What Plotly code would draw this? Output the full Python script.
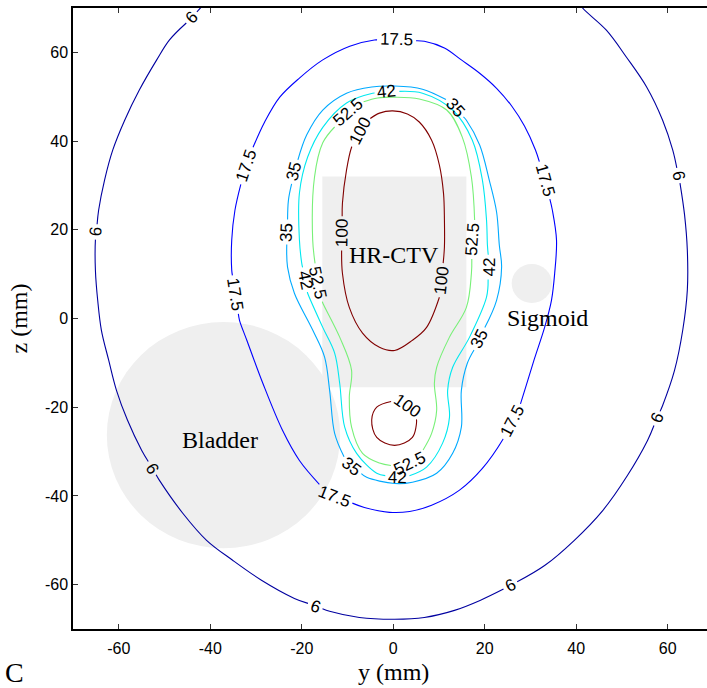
import numpy as np
import plotly.graph_objects as go

# ---------------------------------------------------------------- axes (mm)
Y_RANGE = [-70, 68.6]
Z_RANGE = [-70, 70]
TICKS = [-60, -40, -20, 0, 20, 40, 60]
TICK_TEXT = ["-60", "-40", "-20", "0", "20", "40", "60"]

# ---------------------------------------------------------------- isodose lines
levels = [6, 17.5, 35, 42, 52.5, 100]
level_colors = ["#0000a0", "#0000ff", "#00aaff", "#00e8f0", "#78f078", "#800000"]

iso6_y = [-40.4, -43.9, -48.9, -51.7, -55.5, -58.7, -61.3, -63.1, -64.4, -65.1, -65.1, -64.6, -63.8,
          -62.2, -60.5, -58.1, -55.0, -51.1, -46.0, -40.8, -35.1, -28.8, -21.6, -13.9, -7.4, 0.3,
          6.8, 13.4, 19.1, 25.9, 33.1, 39.6, 45.8, 51.2, 55.6, 58.9, 61.5, 63.3, 64.3, 64.3, 63.7,
          62.6, 61.1, 58.9, 55.4, 51.0, 46.6, 41.4, 40.1]
iso6_z = [72.0, 68.0, 62.8, 58.3, 51.5, 44.7, 38.0, 31.2, 24.4, 17.7, 10.9, 4.1, -2.6,
          -9.4, -16.2, -22.9, -29.7, -36.5, -43.9, -50.0, -54.5, -59.0, -63.1, -66.0, -67.4, -67.8,
          -67.4, -65.8, -63.5, -60.1, -55.7, -50.0, -43.3, -35.4, -27.5, -19.6, -11.7, -2.6, 6.4, 15.4, 23.3,
          31.2, 38.0, 44.7, 52.2, 58.9, 65.0, 70.0, 72.0]

iso17_y = [0.7, 6.8, 11.2, 14.9, 18.9, 22.6, 25.9, 28.7, 31.1, 33.3, 34.8, 35.7, 35.3, 34.6, 33.1,
           30.9, 29.1, 27.6, 23.9, 19.5, 14.5, 8.4, 3.6, -0.8, -6.3, -10.6, -14.5, -20.5, -24.2,
           -28.5, -32.0, -33.6, -34.6, -35.3, -35.3, -34.6, -33.1, -30.9, -28.1, -24.8, -20.5,
           -15.4, -9.5, -4.1]
iso17_z = [62.9, 62.5, 61.0, 58.3, 55.3, 51.9, 47.9, 43.4, 38.0, 31.2, 24.4, 17.7, 10.2, 4.1, -2.0,
           -9.0, -15.0, -20.0, -27.4, -33.8, -38.7, -42.1, -43.5, -43.7, -42.6, -41.0, -39.4, -32.0,
           -25.2, -14.6, -4.9, -0.4, 5.3, 10.9, 17.7, 24.4, 31.2, 38.0, 44.3, 49.9, 54.2, 58.3,
           61.4, 62.8]

iso35_y = [0.3, 6.4, 12.3, 16.0, 18.9, 21.0, 22.6, 23.2, 23.7, 22.6, 19.5, 16.2, 14.9, 14.9, 13.0,
           9.5, 4.2, 0.3, -5.8, -10.2, -12.8, -13.9, -15.0, -17.6, -21.6, -23.1, -23.3, -22.9, -21.6,
           -18.9, -15.4, -10.2, -4.7]
iso35_z = [52.4, 51.7, 49.0, 44.7, 39.1, 31.2, 24.0, 16.5, 11.6, 4.1, -3.3, -10.1, -16.2, -24.5,
           -30.4, -34.9, -36.9, -37.2, -35.8, -32.6, -25.9, -16.2, -8.7, -2.6, 5.7, 11.6, 17.7, 26.7,
           33.5, 41.4, 47.0, 50.8, 52.2]

iso42_y = [0.3, 6.4, 13.0, 17.3, 19.5, 20.4, 20.6, 21.0, 20.4, 16.7, 13.0, 11.9, 12.3, 10.8, 7.3,
           2.9, 0.3, -3.6, -8.0, -10.6, -11.7, -12.8, -15.4, -18.7, -20.0, -20.5, -20.5, -18.7,
           -15.4, -10.2, -4.5]
iso42_z = [51.3, 50.8, 47.0, 40.2, 31.2, 22.2, 16.5, 11.6, 4.8, -4.2, -11.0, -16.2, -22.3, -28.1,
           -33.5, -35.8, -36.0, -34.9, -30.4, -24.5, -14.6, -7.8, -2.0, 5.7, 12.5, 17.7, 28.3, 36.4,
           43.1, 48.6, 50.8]

iso52_y = [0.3, 5.7, 11.7, 15.1, 17.1, 17.8, 17.3, 17.1, 16.0, 12.3, 9.5, 9.0, 9.5, 8.4, 5.7, 2.9,
           0.3, -3.0, -6.7, -9.1, -9.6, -9.1, -11.7, -15.4, -16.7, -17.6, -17.2, -15.4, -11.7,
           -7.4, -3.4]
iso52_z = [49.9, 49.5, 47.0, 40.9, 31.9, 22.2, 17.7, 10.2, 2.5, -4.2, -11.0, -14.6, -20.7, -25.9,
           -31.3, -33.1, -33.3, -32.6, -30.4, -24.5, -17.8, -11.7, -4.2, 3.5, 8.6, 17.7, 31.9, 39.6,
           44.7, 48.6, 49.7]

iso100a_y = [-0.1, 3.1, 5.7, 8.4, 10.1, 11.0, 11.2, 11.2, 10.8, 10.1, 7.3, 4.2, 0.3, -3.0, -6.7,
             -9.6, -11.1, -11.3, -11.1, -10.2, -9.1, -6.3, -3.0]
iso100a_z = [46.8, 46.1, 44.3, 40.2, 34.6, 28.2, 22.2, 16.1, 10.9, 4.8, -2.0, -4.9, -7.2, -6.5,
             -3.3, 2.5, 10.2, 16.1, 26.0, 33.5, 38.6, 44.3, 46.3]
iso100b_y = [0.3, 3.6, 5.1, 4.2, 0.3, -3.6, -4.7, -3.6]
iso100b_z = [-18.4, -20.0, -22.9, -26.8, -28.6, -26.8, -22.9, -20.0]

# (level, y, z, closed)
loops = [
    (6, iso6_y, iso6_z, False),
    (17.5, iso17_y, iso17_z, True),
    (35, iso35_y, iso35_z, True),
    (42, iso42_y, iso42_z, True),
    (52.5, iso52_y, iso52_z, True),
    (100, iso100a_y, iso100a_z, True),
    (100, iso100b_y, iso100b_z, True),
]

# inline contour labels
lab_level = [6, 6, 6, 6, 6, 6, 6,
             17.5, 17.5, 17.5, 17.5, 17.5, 17.5,
             35, 35, 35, 35, 35,
             42, 42, 42, 42,
             52.5, 52.5, 52.5, 52.5,
             100, 100, 100, 100]
lab_y = [-43.9, -64.8, -52.8, -17.0, 25.9, 57.6, 62.6,
         0.7, 33.3, -32.5, -35.1, 25.4, -11.7,
         13.5, -21.3, -23.1, 19.5, -9.5,
         -1.4, 20.6, -20.0, 0.9,
         -9.5, 18.2, -17.2, 3.6,
         -6.9, -11.1, 10.8, 2.5]
lab_z = [67.7, 19.5, -33.8, -64.7, -60.8, -22.5, 32.3,
         62.3, 31.2, 34.6, 5.3, -22.9, -36.9,
         47.5, 33.0, 19.5, -4.9, -33.8,
         51.5, 11.6, 8.6, -35.8,
         45.9, 17.7, 7.9, -32.6,
         42.0, 19.2, 8.6, -20.7]

# ---------------------------------------------------------------- structures
organ_names = ["HR-CTV", "Bladder", "Sigmoid"]
ctv_y = [-15.5, 16.0]
ctv_z = [-15.5, 32.0]
bladder_center = [-37.1, -26.3]
bladder_radius = 25.5
sigmoid_center = [30.3, 7.9]
sigmoid_radius = 4.4
organ_label_y = [0.1, -37.9, 33.7]
organ_label_z = [14.4, -27.3, 0.2]

# ---------------------------------------------------------------- geometry
W, H = 707, 688
ML, MR, MT, MB = 73, 0, 8, 59
SX = (W - ML - MR) / (Y_RANGE[1] - Y_RANGE[0])   # px per mm horizontally
SZ = (H - MT - MB) / (Z_RANGE[1] - Z_RANGE[0])   # px per mm vertically
LABEL_FONT = 17


def text_width(s):
    return sum(0.278 if c == "." else 0.556 for c in s) * LABEL_FONT


def fmt(level):
    return ("%g" % level)


def build_loop(ys, zs, closed, labels):
    """Break an isodose polyline where its labels sit; return line coords and label placements."""
    P = np.column_stack([np.asarray(ys) * SX, -np.asarray(zs) * SZ])
    if closed:
        P = np.vstack([P, P[:1]])
    seg = np.diff(P, axis=0)
    seglen = np.hypot(seg[:, 0], seg[:, 1])
    cum = np.concatenate([[0.0], np.cumsum(seglen)])
    L = cum[-1]

    def point_at(s):
        if closed:
            s = s % L
        s = min(max(s, 0.0), L)
        i = min(np.searchsorted(cum, s, side="right") - 1, len(seg) - 1)
        t = (s - cum[i]) / seglen[i]
        return P[i] + t * seg[i]

    gaps, placed = [], []
    for ly, lz, txt in labels:
        q = np.array([ly * SX, -lz * SZ])
        best = None
        for i in range(len(seg)):
            t = np.clip(np.dot(q - P[i], seg[i]) / seglen[i] ** 2, 0, 1)
            pt = P[i] + t * seg[i]
            d = np.hypot(*(q - pt))
            if best is None or d < best[0]:
                best = (d, cum[i] + t * seglen[i], pt)
        _, s0, pt = best
        half = text_width(txt) / 2 + 3
        a, b = s0 - half, s0 + half
        if closed and a < 0:
            gaps += [(a + L, L), (0, b)]
        elif closed and b > L:
            gaps += [(a, L), (0, b - L)]
        else:
            gaps.append((max(a, 0), min(b, L)))
        d = point_at(s0 + 7) - point_at(s0 - 7)
        ang = np.degrees(np.arctan2(d[1], d[0]))
        if ang > 90:
            ang -= 180
        if ang <= -90:
            ang += 180
        placed.append((pt[0] / SX, -pt[1] / SZ, ang, txt))

    # visible intervals = [0, L] minus gaps
    gaps.sort()
    vis, cur = [], 0.0
    for a, b in gaps:
        if a > cur:
            vis.append((cur, a))
        cur = max(cur, b)
    if cur < L:
        vis.append((cur, L))

    runs = []
    for a, b in vis:
        pts = [point_at(a)]
        for k in range(len(cum)):
            if a < cum[k] < b:
                pts.append(P[k])
        pts.append(point_at(b) if b < L else P[-1])
        runs.append(pts)
    if closed and len(runs) > 1 and vis[0][0] == 0 and vis[-1][1] == L:
        runs[0] = runs[-1] + runs[0][1:]
        runs.pop()

    xs, zs_out = [], []
    for r in runs:
        for p in r:
            xs.append(p[0] / SX)
            zs_out.append(-p[1] / SZ)
        xs.append(None)
        zs_out.append(None)
    return xs, zs_out, placed


# assign each label to the nearest loop of its level
loop_labels = {i: [] for i in range(len(loops))}
for lv, ly, lz in zip(lab_level, lab_y, lab_z):
    cands = [i for i, lp in enumerate(loops) if lp[0] == lv]
    best_i = min(cands, key=lambda i: np.min(np.hypot((np.array(loops[i][1]) - ly) * SX,
                                                     (np.array(loops[i][2]) - lz) * SZ)))
    loop_labels[best_i].append((ly, lz, fmt(lv)))

fig = go.Figure()
annotations = []
for i, (lv, ys, zs, closed) in enumerate(loops):
    xs, zz, placed = build_loop(ys, zs, closed, loop_labels[i])
    color = level_colors[levels.index(lv)]
    fig.add_trace(go.Scatter(x=xs, y=zz, mode="lines", line=dict(color=color, width=1.1, shape="spline"),
                             hoverinfo="skip", showlegend=False))
    for px, pz, ang, txt in placed:
        annotations.append(dict(x=px, y=pz, xref="x", yref="y", text=txt, showarrow=False,
                                textangle=ang, font=dict(family="Liberation Sans, Arial", size=LABEL_FONT,
                                                         color="black")))

# organ outlines (filled, beneath the dose lines)
GRAY = "#efefef"
shapes = [
    dict(type="rect", xref="x", yref="y", x0=ctv_y[0], x1=ctv_y[1], y0=ctv_z[0], y1=ctv_z[1],
         fillcolor=GRAY, line=dict(width=0), layer="below"),
    dict(type="circle", xref="x", yref="y",
         x0=bladder_center[0] - bladder_radius, x1=bladder_center[0] + bladder_radius,
         y0=bladder_center[1] - bladder_radius, y1=bladder_center[1] + bladder_radius,
         fillcolor=GRAY, line=dict(width=0), layer="below"),
    dict(type="circle", xref="x", yref="y",
         x0=sigmoid_center[0] - sigmoid_radius, x1=sigmoid_center[0] + sigmoid_radius,
         y0=sigmoid_center[1] - sigmoid_radius, y1=sigmoid_center[1] + sigmoid_radius,
         fillcolor=GRAY, line=dict(width=0), layer="below"),
]

SERIF = "Liberation Serif, Times New Roman, serif"
for name, oy, oz in zip(organ_names, organ_label_y, organ_label_z):
    annotations.append(dict(x=oy, y=oz, xref="x", yref="y", text=name, showarrow=False,
                            font=dict(family=SERIF, size=24, color="black")))

annotations += [
    dict(x=0, y=0, xref="x", yref="paper", text="y (mm)", showarrow=False, yanchor="middle",
         yshift=-43, font=dict(family=SERIF, size=24, color="black")),
    dict(x=0, y=0, xref="paper", yref="y", text="z (mm)", showarrow=False, textangle=-90,
         xanchor="center", xshift=-55, font=dict(family=SERIF, size=24, color="black")),
    dict(x=0, y=0, xref="paper", yref="paper", text="C", showarrow=False, xanchor="center",
         yanchor="middle", xshift=-59, yshift=-43, font=dict(family=SERIF, size=28, color="black")),
]

axis_common = dict(showgrid=False, zeroline=False, ticks="inside", ticklen=5, tickwidth=1,
                   tickcolor="#333", showline=True, linecolor="black", linewidth=1.5,
                   tickvals=TICKS, ticktext=TICK_TEXT,
                   tickfont=dict(family="Liberation Sans, Arial", size=16, color="black"))

fig.update_layout(
    width=W, height=H,
    margin=dict(l=ML, r=MR, t=MT, b=MB, pad=0),
    paper_bgcolor="white", plot_bgcolor="white",
    shapes=shapes, annotations=annotations,
    xaxis=dict(range=Y_RANGE, mirror="ticks", ticklabelstandoff=4, **axis_common),
    yaxis=dict(range=Z_RANGE, mirror=False, **axis_common),
)

fig.write_html("out.html")
